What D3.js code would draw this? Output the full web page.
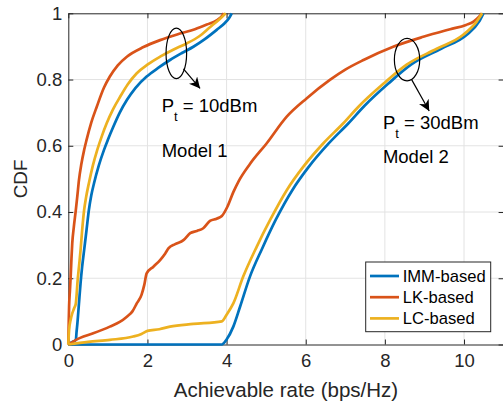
<!DOCTYPE html>
<html><head><meta charset="utf-8">
<script src="https://cdn.jsdelivr.net/npm/d3@7"></script>
<style>
html,body{margin:0;padding:0;background:#fff;}
svg{display:block;font-family:"Liberation Sans",Arial,Helvetica,sans-serif;}
</style></head>
<body>
<svg id="c" width="503" height="402"></svg>
<script>
// ---- data ----
const seriesNames = ["IMM-based", "LK-based", "LC-based"];
const xTicks = [0, 2, 4, 6, 8, 10];
const yTicks = [0, 0.2, 0.4, 0.6, 0.8, 1];
const yTickLabels = ["0", "0.2", "0.4", "0.6", "0.8", "1"];

// Model 1 (Pt = 10 dBm)
const immModel1 = [[0,0],[0.06,0.005],[0.15,0.01],[0.19,0.014],[0.21,0.04],[0.23,0.064],[0.27,0.125],[0.31,0.185],[0.35,0.235],[0.4,0.285],[0.46,0.345],[0.52,0.406],[0.58,0.45],[0.65,0.487],[0.77,0.54],[0.9,0.587],[1.0,0.618],[1.14,0.658],[1.3,0.7],[1.48,0.738],[1.7,0.775],[1.98,0.809],[2.27,0.835],[2.57,0.859],[2.87,0.88],[3.16,0.899],[3.45,0.922],[3.75,0.95],[3.95,0.97],[4.06,0.985],[4.13,1]];
const lkModel1 = [[0,0],[0.01,0.06],[0.02,0.114],[0.04,0.16],[0.06,0.205],[0.08,0.26],[0.1,0.306],[0.14,0.355],[0.19,0.406],[0.23,0.45],[0.27,0.497],[0.33,0.545],[0.4,0.587],[0.46,0.617],[0.58,0.67],[0.72,0.718],[0.9,0.775],[1.05,0.809],[1.25,0.843],[1.48,0.869],[1.9,0.898],[2.32,0.919],[2.8,0.938],[3.2,0.952],[3.5,0.966],[3.75,0.979],[3.87,0.99],[3.93,1]];
const lcModel1 = [[0,0],[0.02,0.044],[0.06,0.075],[0.1,0.094],[0.15,0.11],[0.19,0.124],[0.21,0.15],[0.23,0.185],[0.27,0.235],[0.31,0.285],[0.35,0.345],[0.4,0.406],[0.45,0.445],[0.52,0.487],[0.62,0.54],[0.73,0.587],[0.85,0.63],[0.97,0.668],[1.13,0.71],[1.31,0.748],[1.5,0.785],[1.73,0.819],[2.0,0.845],[2.32,0.869],[2.65,0.89],[2.99,0.909],[3.3,0.93],[3.58,0.958],[3.8,0.98],[3.92,0.993],[3.98,1]];

// Model 2 (Pt = 30 dBm)
const immModel2 = [[0,0],[3.88,0],[4.0,0.015],[4.17,0.054],[4.34,0.114],[4.59,0.205],[4.9,0.29],[5.24,0.376],[5.66,0.466],[6.08,0.537],[6.58,0.607],[7.08,0.668],[7.48,0.72],[8.08,0.787],[8.66,0.845],[9.42,0.893],[10.07,0.935],[10.38,0.975],[10.49,1]];
const lkModel2 = [[0,0],[0.3,0.02],[0.63,0.034],[1.05,0.054],[1.3,0.068],[1.48,0.084],[1.62,0.1],[1.73,0.124],[1.85,0.15],[1.92,0.18],[1.98,0.215],[2.15,0.235],[2.32,0.255],[2.45,0.275],[2.53,0.29],[2.7,0.303],[2.91,0.315],[3.08,0.336],[3.25,0.343],[3.41,0.351],[3.58,0.373],[3.75,0.38],[3.88,0.388],[4.02,0.416],[4.17,0.46],[4.3,0.492],[4.59,0.545],[5.01,0.607],[5.52,0.688],[6.02,0.743],[6.61,0.799],[7.0,0.83],[7.46,0.859],[8.21,0.899],[8.97,0.929],[9.65,0.952],[10.05,0.965],[10.24,0.975],[10.38,0.99],[10.45,1]];
const lcModel2 = [[0,0],[0.5,0.008],[1.05,0.014],[1.64,0.024],[1.85,0.032],[2.0,0.041],[2.3,0.046],[2.57,0.054],[3.16,0.062],[3.88,0.07],[4.0,0.09],[4.17,0.124],[4.42,0.205],[4.76,0.295],[5.1,0.376],[5.52,0.466],[5.94,0.537],[6.44,0.607],[6.95,0.668],[7.35,0.72],[7.96,0.787],[8.55,0.845],[9.31,0.893],[9.98,0.935],[10.32,0.975],[10.46,1]];

const colors = ["#0072BD", "#D95319", "#EDB120"];

// ---- layout ----
const svg = d3.select("#c");
const L = 68.3, R = 503.6, T = 13.3, B = 344.5;
const x = d3.scaleLinear().domain([0, 11]).range([L, R]);
const y = d3.scaleLinear().domain([0, 1]).range([B, T]);
const axisColor = "#262626";

svg.append("rect").attr("width",503).attr("height",402).attr("fill","#fff");

// grid
const grid = svg.append("g").attr("stroke","#e3e3e3").attr("stroke-width",1);
xTicks.forEach(t => { if (t>0) grid.append("line").attr("x1",x(t)).attr("x2",x(t)).attr("y1",T).attr("y2",B); });
yTicks.forEach(t => { if (t>0 && t<1) grid.append("line").attr("x1",L).attr("x2",R).attr("y1",y(t)).attr("y2",y(t)); });

// axes
const fmtY = d => yTickLabels[yTicks.indexOf(d)];
const gx = svg.append("g").attr("transform",`translate(0,${B})`)
  .call(d3.axisBottom(x).tickValues(xTicks).tickSize(-5).tickPadding(9).tickSizeOuter(0));
const gy = svg.append("g").attr("transform",`translate(${L},0)`)
  .call(d3.axisLeft(y).tickValues(yTicks).tickFormat(fmtY).tickSize(-5).tickPadding(6).tickSizeOuter(0));
const gxt = svg.append("g").attr("transform",`translate(0,${T})`)
  .call(d3.axisTop(x).tickValues(xTicks).tickSize(-5).tickFormat("").tickSizeOuter(0));
const gyr = svg.append("g").attr("transform",`translate(${R},0)`)
  .call(d3.axisRight(y).tickValues(yTicks).tickSize(-5).tickFormat("").tickSizeOuter(0));
[gx,gy,gxt,gyr].forEach(g => {
  g.selectAll("path").attr("stroke",axisColor).attr("stroke-width",1);
  g.selectAll("line").attr("stroke",axisColor).attr("stroke-width",1);
  g.selectAll("text").attr("fill",axisColor).attr("font-size","18.5px")
   .attr("font-family","'Liberation Sans',Arial,sans-serif");
});

// axis labels
svg.append("text").attr("x",(L+R)/2).attr("y",397).attr("text-anchor","middle")
  .attr("font-size","20.5px").attr("fill",axisColor).text("Achievable rate (bps/Hz)");
svg.append("text").attr("transform",`translate(26.5,${(T+B)/2}) rotate(-90)`).attr("text-anchor","middle")
  .attr("font-size","18.8px").attr("fill",axisColor).text("CDF");

// curves
const line = d3.line().x(d => x(d[0])).y(d => y(d[1])).curve(d3.curveMonotoneX);
const plot = svg.append("g");
// draw order: IMM, LK, LC (MATLAB order)
const order = [[immModel1,0],[immModel2,0],[lkModel1,1],[lkModel2,1],[lcModel1,2],[lcModel2,2]];
order.forEach(([data, ci]) => {
  plot.append("path").datum(data).attr("d", line)
    .attr("fill","none").attr("stroke",colors[ci]).attr("stroke-width",2.7)
    .attr("stroke-linejoin","round");
});

// annotations
svg.append("defs").append("marker").attr("id","ah").attr("viewBox","0 0 10 10")
  .attr("refX",10).attr("refY",5).attr("markerWidth",11).attr("markerHeight",11)
  .attr("markerUnits","userSpaceOnUse").attr("orient","auto")
  .append("path").attr("d","M0,0 L10,5 L0,10 L3,5 Z").attr("fill","#000");

const ann = svg.append("g");
function ellipse(cx, cy, rx, ry) {
  ann.append("ellipse").attr("cx",x(cx)).attr("cy",y(cy))
    .attr("rx",x(cx+rx)-x(cx)).attr("ry",y(cy)-y(cy+ry))
    .attr("fill","none").attr("stroke","#000").attr("stroke-width",1.2);
}
function arrow(x1,y1,x2,y2){
  ann.append("line").attr("x1",x(x1)).attr("y1",y(y1)).attr("x2",x(x2)).attr("y2",y(y2))
    .attr("stroke","#000").attr("stroke-width",1.2).attr("marker-end","url(#ah)");
}
function ptLabel(px, py, val){
  const t = ann.append("text").attr("x",x(px)).attr("y",y(py)).attr("font-size","18.5px").attr("fill","#000");
  t.append("tspan").text("P");
  t.append("tspan").attr("font-size","13px").attr("dy",9).text("t");
  t.append("tspan").attr("dy",-9).text(" = " + val);
}
function plain(px, py, s){
  ann.append("text").attr("x",x(px)).attr("y",y(py)).attr("font-size","18.5px").attr("fill","#000").text(s);
}
ellipse(2.73, 0.879, 0.26, 0.076);
arrow(2.91, 0.832, 3.33, 0.773);
ptLabel(2.36, 0.703, "10dBm");
plain(2.36, 0.567, "Model 1");

ellipse(8.56, 0.860, 0.32, 0.064);
arrow(8.68, 0.799, 9.12, 0.705);
ptLabel(7.95, 0.651, "30dBm");
plain(7.95, 0.549, "Model 2");

// legend
const lg = svg.append("g");
lg.append("rect").attr("x",365.7).attr("y",262).attr("width",125).attr("height",69.7)
  .attr("fill","#fff").attr("stroke",axisColor).attr("stroke-width",1);
seriesNames.forEach((n,i) => {
  const yy = 276 + i*21.2;
  lg.append("line").attr("x1",370).attr("x2",399).attr("y1",yy).attr("y2",yy)
    .attr("stroke",colors[i]).attr("stroke-width",2.7);
  lg.append("text").attr("x",402.7).attr("y",yy).attr("dy","0.35em")
    .attr("font-size","16.6px").attr("fill","#000").text(n);
});
</script>
</body></html>
